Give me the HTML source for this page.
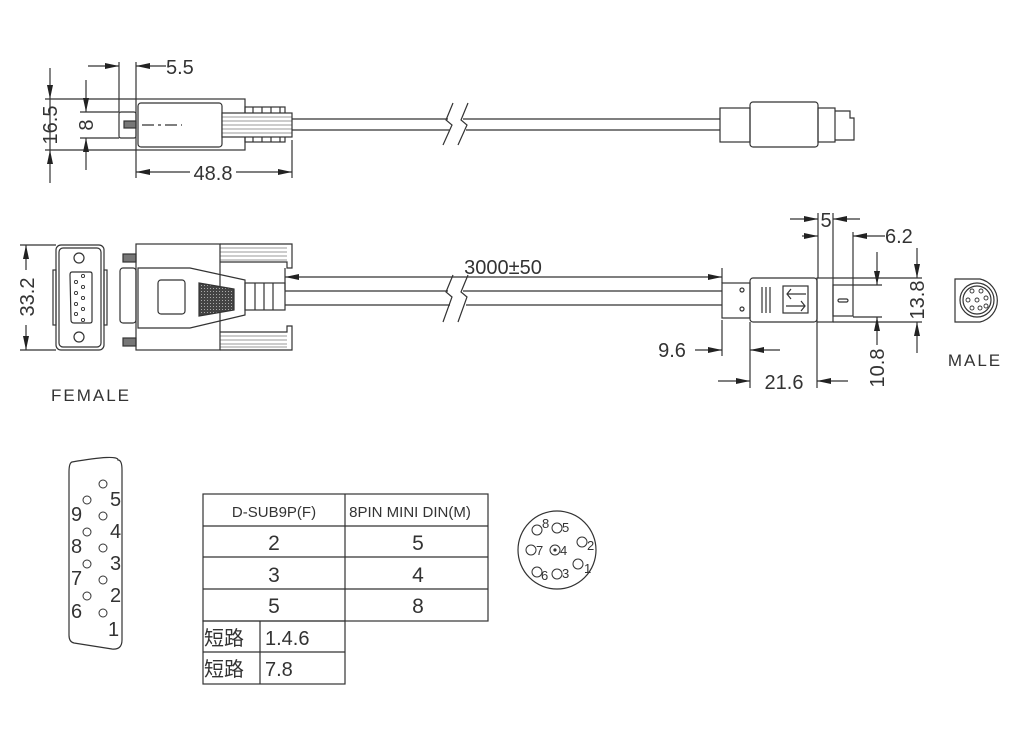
<!DOCTYPE html>
<html><head><meta charset="utf-8"><style>
html,body{margin:0;padding:0;background:#fff;}
svg{display:block;}
text{font-family:"Liberation Sans","Noto Sans CJK SC",sans-serif;fill:#333;}
</style></head><body>
<svg width="1024" height="732" viewBox="0 0 1024 732" xmlns="http://www.w3.org/2000/svg">
<defs>
<marker id="a" viewBox="0 0 14 6" refX="14" refY="3" markerWidth="14" markerHeight="6" markerUnits="userSpaceOnUse" orient="auto-start-reverse"><path d="M0,0 L14,3 L0,6 z" fill="#222"/></marker>
<pattern id="dots" width="3" height="3" patternUnits="userSpaceOnUse"><rect width="3" height="3" fill="#444"/><rect width="1" height="1" fill="#aaa"/></pattern>
</defs>
<g fill="none" stroke="#333" stroke-width="1.2">
<line x1="119" y1="62" x2="119" y2="112"/>
<line x1="136" y1="62" x2="136" y2="99"/>
<line x1="88" y1="66" x2="119" y2="66" marker-end="url(#a)"/>
<line x1="166" y1="66" x2="136" y2="66" marker-end="url(#a)"/>
<line x1="45" y1="99" x2="136" y2="99"/>
<line x1="45" y1="150" x2="136" y2="150"/>
<line x1="50" y1="68" x2="50" y2="99" marker-end="url(#a)"/>
<line x1="50" y1="183" x2="50" y2="150" marker-end="url(#a)"/>
<line x1="50" y1="99" x2="50" y2="150"/>
<line x1="80" y1="112" x2="119" y2="112"/>
<line x1="80" y1="138" x2="119" y2="138"/>
<line x1="86" y1="80" x2="86" y2="112" marker-end="url(#a)"/>
<line x1="86" y1="170" x2="86" y2="138" marker-end="url(#a)"/>
<rect x="119" y="112" width="17" height="26" rx="2"/>
<rect x="124" y="121" width="12" height="7" fill="#777"/>
<line x1="142" y1="125" x2="182" y2="125" stroke-dasharray="12,4,3,4"/>
<rect x="136" y="99" width="109" height="51"/>
<rect x="138" y="103" width="84" height="44" rx="3"/>
<rect x="245" y="107" width="40" height="35"/>
<line x1="253" y1="107" x2="253" y2="142"/><line x1="262" y1="107" x2="262" y2="142"/><line x1="271" y1="107" x2="271" y2="142"/><line x1="280" y1="107" x2="280" y2="142"/>
<rect x="222" y="113" width="70" height="24" fill="#fff"/>
<g stroke-width="0.6"><line x1="222" y1="117" x2="292" y2="117"/><line x1="222" y1="121" x2="292" y2="121"/><line x1="222" y1="125" x2="292" y2="125"/><line x1="222" y1="129" x2="292" y2="129"/><line x1="222" y1="133" x2="292" y2="133"/></g>
<line x1="292" y1="119" x2="448" y2="119"/><line x1="292" y1="130" x2="450" y2="130"/>
<line x1="463" y1="119" x2="720" y2="119"/><line x1="466" y1="130" x2="720" y2="130"/>
<path d="M453,103 L446,120 L452,125 L443,145"/>
<path d="M468,103 L461,120 L467,125 L458,145"/>
<line x1="292" y1="140" x2="292" y2="178"/>
<line x1="136" y1="150" x2="136" y2="178"/>
<line x1="190" y1="172" x2="136" y2="172" marker-end="url(#a)"/>
<line x1="236" y1="172" x2="292" y2="172" marker-end="url(#a)"/>
<rect x="720" y="108" width="30" height="34"/>
<rect x="750" y="102" width="68" height="45" rx="3"/>
<rect x="818" y="108" width="17" height="34"/>
<path d="M835,111 L850,111 L850,118 L854,118 L854,140 L835,140"/>
<rect x="56" y="245" width="48" height="105" rx="5"/>
<rect x="59" y="248" width="42" height="99" rx="4"/>
<rect x="53" y="270" width="3" height="55"/><rect x="104" y="270" width="3" height="55"/>
<path d="M72,272 L90,272 Q92,272 92,274 L92,321 Q92,323 90,323 L74,323 Q71,323 71,320 L70,275 Q70,272 72,272z"/>
<circle cx="79" cy="258" r="5"/><circle cx="79" cy="337" r="5"/>
<g stroke-width="0.9"><circle cx="76" cy="282" r="1.6"/><circle cx="76" cy="293" r="1.6"/><circle cx="76" cy="304" r="1.6"/><circle cx="76" cy="314" r="1.6"/>
<circle cx="83" cy="276" r="1.6"/><circle cx="83" cy="287" r="1.6"/><circle cx="83" cy="298" r="1.6"/><circle cx="83" cy="309" r="1.6"/><circle cx="83" cy="320" r="1.6"/></g>
<line x1="20" y1="245" x2="56" y2="245"/><line x1="20" y1="350" x2="56" y2="350"/>
<line x1="26" y1="270" x2="26" y2="245" marker-end="url(#a)"/>
<line x1="26" y1="325" x2="26" y2="350" marker-end="url(#a)"/>
<rect x="123" y="254" width="13" height="8" fill="#777"/>
<rect x="123" y="338" width="13" height="8" fill="#777"/>
<rect x="120" y="268" width="16" height="55" rx="3"/>
<rect x="136" y="244" width="84" height="106"/>
<path d="M138,268 L190,268 L245,280 L245,315 L190,328 L138,328 z"/>
<rect x="158" y="280" width="27" height="34" rx="3"/>
<path d="M199,283 L234,289 L234,310 L199,316 z" fill="url(#dots)"/>
<path d="M220,244 L292,244 L292,268 L287,268 L287,262 L220,262"/>
<path d="M220,350 L292,350 L292,326 L287,326 L287,332 L220,332"/>
<g stroke-width="0.6"><line x1="220" y1="248" x2="287" y2="248"/><line x1="220" y1="252" x2="287" y2="252"/><line x1="220" y1="256" x2="287" y2="256"/><line x1="220" y1="260" x2="287" y2="260"/>
<line x1="220" y1="336" x2="287" y2="336"/><line x1="220" y1="340" x2="287" y2="340"/><line x1="220" y1="344" x2="287" y2="344"/><line x1="220" y1="347" x2="287" y2="347"/></g>
<rect x="245" y="283" width="40" height="27"/>
<line x1="255" y1="283" x2="255" y2="310"/><line x1="264" y1="283" x2="264" y2="310"/><line x1="273" y1="283" x2="273" y2="310"/>
<line x1="285" y1="291" x2="448" y2="291"/><line x1="285" y1="305" x2="450" y2="305"/>
<line x1="463" y1="291" x2="722" y2="291"/><line x1="466" y1="305" x2="722" y2="305"/>
<path d="M453,275 L446,292 L452,297 L443,322"/>
<path d="M468,275 L461,292 L467,297 L458,322"/>
<line x1="285" y1="268" x2="285" y2="290"/>
<line x1="722" y1="268" x2="722" y2="283"/>
<line x1="500" y1="277" x2="285" y2="277" marker-end="url(#a)"/>
<line x1="500" y1="277" x2="722" y2="277" marker-end="url(#a)"/>
<rect x="722" y="283" width="28" height="35"/>
<circle cx="742" cy="290" r="2"/><circle cx="742" cy="309" r="2"/>
<rect x="750" y="278" width="67" height="44" rx="3"/>
<line x1="762" y1="287" x2="762" y2="313"/><line x1="766" y1="287" x2="766" y2="313"/><line x1="770" y1="287" x2="770" y2="313"/>
<rect x="783" y="286" width="25" height="27"/>
<path d="M806,294 L787,294 M791,289 L787,294 L791,299"/>
<path d="M786,306 L805,306 M801,301 L805,306 L801,311"/>
<rect x="817" y="278" width="16" height="44"/>
<rect x="833" y="285" width="20" height="31"/>
<rect x="838" y="299" width="10" height="3" rx="1.5"/>
<line x1="818" y1="213" x2="818" y2="278"/><line x1="833" y1="213" x2="833" y2="278"/>
<line x1="790" y1="219" x2="818" y2="219" marker-end="url(#a)"/>
<line x1="860" y1="219" x2="833" y2="219" marker-end="url(#a)"/>
<line x1="853" y1="232" x2="853" y2="285"/>
<line x1="802" y1="236" x2="818" y2="236" marker-end="url(#a)"/>
<line x1="885" y1="236" x2="853" y2="236" marker-end="url(#a)"/>
<line x1="833" y1="278" x2="922" y2="278"/><line x1="833" y1="322" x2="922" y2="322"/>
<line x1="853" y1="285" x2="882" y2="285"/><line x1="853" y1="317" x2="882" y2="317"/>
<line x1="917" y1="248" x2="917" y2="278" marker-end="url(#a)"/>
<line x1="917" y1="353" x2="917" y2="322" marker-end="url(#a)"/>
<line x1="877" y1="252" x2="877" y2="285" marker-end="url(#a)"/>
<line x1="877" y1="345" x2="877" y2="317" marker-end="url(#a)"/>
<line x1="722" y1="320" x2="722" y2="356"/><line x1="750" y1="322" x2="750" y2="388"/><line x1="817" y1="322" x2="817" y2="388"/>
<line x1="695" y1="350" x2="722" y2="350" marker-end="url(#a)"/>
<line x1="780" y1="350" x2="750" y2="350" marker-end="url(#a)"/>
<line x1="718" y1="381" x2="750" y2="381" marker-end="url(#a)"/>
<line x1="848" y1="381" x2="817" y2="381" marker-end="url(#a)"/>
<path d="M955,279 L980,279 A22,22 0 0 1 980,322 L955,322 z"/>
<circle cx="977" cy="300" r="17"/><circle cx="977" cy="300" r="14"/>
<g stroke-width="0.9"><circle cx="972" cy="291" r="2"/><circle cx="981" cy="291" r="2"/><circle cx="968" cy="300" r="2"/><circle cx="977" cy="300" r="2"/><circle cx="986" cy="298" r="2"/><circle cx="972" cy="308" r="2"/><circle cx="980" cy="308" r="2"/><circle cx="986" cy="306" r="2"/></g>
<path d="M72,462 Q118,454 118,460 Q122,460 122,470 L122,640 Q122,650 112,649 L74,643 Q69,642 69,635 L69,472 Q69,463 72,462 z"/>
<g stroke-width="1"><circle cx="103" cy="484" r="4"/><circle cx="103" cy="516" r="4"/><circle cx="103" cy="548" r="4"/><circle cx="103" cy="580" r="4"/><circle cx="103" cy="613" r="4"/>
<circle cx="87" cy="500" r="4"/><circle cx="87" cy="532" r="4"/><circle cx="87" cy="564" r="4"/><circle cx="87" cy="596" r="4"/></g>
<rect x="203" y="494" width="285" height="127"/>
<line x1="345" y1="494" x2="345" y2="621"/>
<line x1="203" y1="526" x2="488" y2="526"/><line x1="203" y1="557" x2="488" y2="557"/><line x1="203" y1="589" x2="488" y2="589"/>
<rect x="203" y="621" width="142" height="63"/>
<line x1="203" y1="652" x2="345" y2="652"/>
<line x1="260" y1="621" x2="260" y2="684"/>
<circle cx="557" cy="550" r="39"/>
<g stroke-width="1"><circle cx="537" cy="530" r="5"/><circle cx="557" cy="528" r="5"/><circle cx="582" cy="542" r="5"/><circle cx="531" cy="550" r="5"/><circle cx="555" cy="550" r="5"/><circle cx="578" cy="564" r="5"/><circle cx="537" cy="572" r="5"/><circle cx="557" cy="574" r="5"/></g>
<circle cx="555" cy="550" r="1" fill="#333"/>
</g>
<g font-size="20">
<text x="166" y="74">5.5</text>
<text transform="translate(57,125) rotate(-90)" text-anchor="middle">16.5</text>
<text transform="translate(93,125) rotate(-90)" text-anchor="middle">8</text>
<text x="213" y="180" text-anchor="middle">48.8</text>
<text transform="translate(34,297) rotate(-90)" text-anchor="middle">33.2</text>
<text x="503" y="274" text-anchor="middle">3000±50</text>
<text x="826" y="227" text-anchor="middle">5</text>
<text x="885" y="243">6.2</text>
<text transform="translate(924,300) rotate(-90)" text-anchor="middle">13.8</text>
<text transform="translate(884,368) rotate(-90)" text-anchor="middle">10.8</text>
<text x="672" y="357" text-anchor="middle">9.6</text>
<text x="784" y="389" text-anchor="middle">21.6</text>
</g>
<g font-size="17" letter-spacing="2">
<text x="975" y="366" text-anchor="middle">MALE</text>
<text x="91" y="401" text-anchor="middle">FEMALE</text>
</g>
<g font-size="20">
<text x="110" y="506">5</text><text x="110" y="538">4</text><text x="110" y="570">3</text><text x="110" y="602">2</text><text x="108" y="636">1</text>
<text x="71" y="521">9</text><text x="71" y="553">8</text><text x="71" y="585">7</text><text x="71" y="618">6</text>
</g>
<g font-size="15" text-anchor="middle">
<text x="274" y="517">D-SUB9P(F)</text>
<text x="410" y="517">8PIN MINI DIN(M)</text>
</g>
<g font-size="21" text-anchor="middle">
<text x="274" y="550">2</text><text x="274" y="582">3</text><text x="274" y="613">5</text>
<text x="418" y="550">5</text><text x="418" y="582">4</text><text x="418" y="613">8</text>
</g>
<g font-size="20">
<text x="204" y="645">短路</text><text x="204" y="676">短路</text>
<text x="265" y="645">1.4.6</text><text x="265" y="676">7.8</text>
</g>
<g font-size="13">
<text x="542" y="528">8</text><text x="562" y="532">5</text><text x="587" y="550">2</text>
<text x="536" y="555">7</text><text x="560" y="555">4</text><text x="584" y="573">1</text>
<text x="541" y="580">6</text><text x="562" y="578">3</text>
</g>
</svg>
</body></html>
